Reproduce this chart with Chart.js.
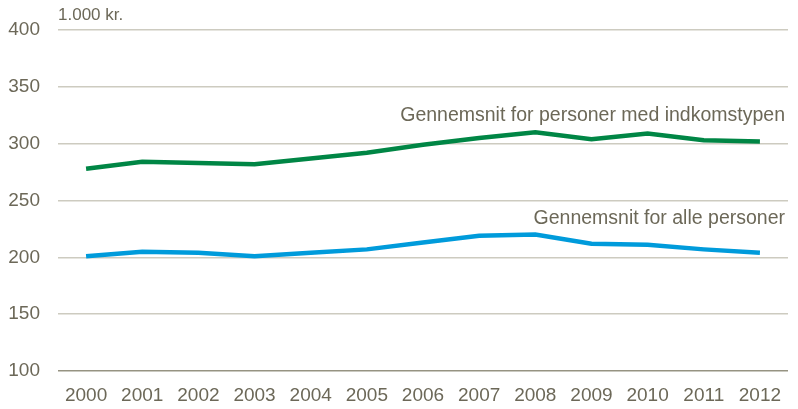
<!DOCTYPE html>
<html>
<head>
<meta charset="utf-8">
<script src="https://cdn.jsdelivr.net/npm/chart.js@4.4.0/dist/chart.umd.min.js"></script>
<style>
  html, body { margin: 0; padding: 0; background: #fff; }
  #wrap { width: 798px; height: 409px; }
</style>
</head>
<body>
<div id="wrap"><canvas id="chartIndkomst"></canvas></div>
<script>
var years = ['2000','2001','2002','2003','2004','2005','2006','2007','2008','2009','2010','2011','2012'];
var medIndkomst = [278, 284, 283, 282, 287, 292, 299, 305, 310, 304, 309, 303, 302];
var allePersoner = [201, 205, 204, 201, 204, 207, 213, 219, 220, 212, 211, 207, 204];
var seriesLabels = ['Gennemsnit for personer med indkomstypen', 'Gennemsnit for alle personer'];
var yTicks = [100, 150, 200, 250, 300, 350, 400];
var unitLabel = '1.000 kr.';

var fontFamily = "'Liberation Sans', Arial, sans-serif";
var textColor = 'rgb(108,104,88)';

// line labels + unit text
var labelPlugin = {
    id: 'lineLabels',
    afterDatasetsDraw: function(chart) {
        var ctx = chart.ctx, area = chart.chartArea, y = chart.scales.y;
        ctx.save();
        ctx.fillStyle = textColor;
        ctx.font = '19.5px ' + fontFamily;
        ctx.textBaseline = 'middle';
        ctx.textAlign = 'right';
        ctx.fillText(seriesLabels[0], area.right - 3, y.getPixelForValue(325));
        ctx.fillText(seriesLabels[1], area.right - 3, y.getPixelForValue(234));
        ctx.textAlign = 'left';
        ctx.font = '17px ' + fontFamily;
        ctx.fillText(unitLabel, area.left, 15);
        ctx.restore();
    }
};

var ctx = document.getElementById('chartIndkomst');
var myChart = new Chart(ctx, {
    type: 'line',
    data: {
        labels: years,
        datasets: [{
            label: seriesLabels[0],
            data: medIndkomst,
            borderColor: 'rgb(0,134,69)',
            borderWidth: 4.5,
            pointRadius: 0,
            tension: 0,
            fill: false
        }, {
            label: seriesLabels[1],
            data: allePersoner,
            borderColor: 'rgb(0,155,219)',
            borderWidth: 4.5,
            pointRadius: 0,
            tension: 0,
            fill: false
        }]
    },
    plugins: [labelPlugin],
    options: {
        responsive: true,
        maintainAspectRatio: false,
        animation: false,
        layout: { padding: { top: 30, right: 10, left: 0, bottom: 0 } },
        plugins: {
            legend: { display: false },
            tooltip: { enabled: false }
        },
        scales: {
            x: {
                offset: true,
                grid: { display: false, drawTicks: false },
                border: { display: false },
                ticks: { color: textColor, font: { family: fontFamily, size: 19 }, padding: 13, maxRotation: 0 },
                afterFit: function(scale) { scale.height = 38; }
            },
            y: {
                min: 100,
                max: 400,
                afterBuildTicks: function(scale) {
                    scale.ticks = yTicks.map(function(v) { return { value: v }; });
                },
                grid: {
                    drawTicks: false,
                    lineWidth: 1.5,
                    color: function(c) { return c.tick && c.tick.value === 100 ? 'rgb(150,147,130)' : 'rgb(205,203,192)'; }
                },
                border: { display: false },
                ticks: { color: textColor, font: { family: fontFamily, size: 19 }, padding: 18 },
                afterFit: function(scale) { scale.width = 58; }
            }
        }
    }
});
</script>
</body>
</html>
